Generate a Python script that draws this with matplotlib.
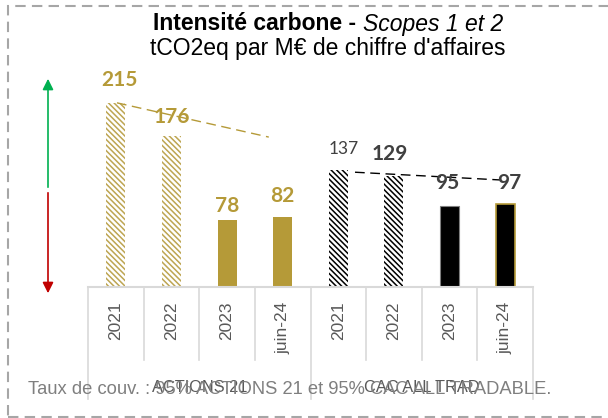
import matplotlib
matplotlib.use('Agg')
import matplotlib.pyplot as plt
import numpy as np

# data
groups = ['ACTIONS 21', 'CAC ALL TRAD']
periods = ['2021', '2022', '2023', 'juin-24']
actions_vals = [215, 176, 78, 82]
cac_vals = [137, 129, 95, 97]
actions_trend = [215, 175]
cac_trend = [134, 125]
footnote = 'Taux de couv. : 95% ACTIONS 21 et 95% CAC ALL TRADABLE.'

gold = '#B59A38'
grey_txt = '#595959'
line_col = '#D9D9D9'

plt.rcParams['font.family'] = ['Liberation Sans', 'DejaVu Sans']
plt.rcParams['hatch.linewidth'] = 1.1

fig = plt.figure(figsize=(6.08, 4.18), dpi=100)
ax = fig.add_axes([88 / 608, 1 - 287 / 418, 445 / 608, 227 / 418])
ax.set_xlim(-0.5, 7.5)
ax.set_ylim(0, 265)
ax.axis('off')

x_act = np.arange(4)
x_cac = np.arange(4) + 4
w = 0.34

# ACTIONS 21 bars
for i, v in enumerate(actions_vals):
    if i < 2:
        ax.bar(x_act[i], v, w, color='white', edgecolor='#BDA552', hatch='\\\\\\\\\\\\', linewidth=0)
    else:
        ax.bar(x_act[i], v, w, color=gold, linewidth=0)
# CAC bars
for i, v in enumerate(cac_vals):
    if i < 2:
        ax.bar(x_cac[i], v, w, color='white', edgecolor='black', hatch='\\\\\\\\\\\\', linewidth=0)
    elif i == 2:
        ax.bar(x_cac[i], v, w, color='black', edgecolor='#7F7F7F', linewidth=0.8)
    else:
        ax.bar(x_cac[i], v, w, color='black', edgecolor=gold, linewidth=1.2)

# trend lines
ax.plot([0.02, 2.75], actions_trend, color=gold, lw=1, dashes=(7, 4), clip_on=False)
ax.plot([4.3, 6.9], cac_trend, color='black', lw=1, dashes=(7, 4), clip_on=False)

# value labels (offsets in px)
act_off = [(4, 23), (0, 19), (0, 14), (0, 21)]
cac_off = [(5, 21), (-4, 22), (-2, 23), (4, 21)]
for i, v in enumerate(actions_vals):
    ax.annotate(str(v), (x_act[i], v), xytext=(act_off[i][0] * 0.72, act_off[i][1] * 0.72),
                textcoords='offset points', ha='center', va='center',
                fontsize=15, fontweight='bold', color=gold, family='Lato')
for i, v in enumerate(cac_vals):
    ax.annotate(str(v), (x_cac[i], v), xytext=(cac_off[i][0] * 0.72, cac_off[i][1] * 0.72),
                textcoords='offset points', ha='center', va='center',
                fontsize=12.5 if i == 0 else 15, fontweight='normal' if i == 0 else 'bold',
                color='#404040', family='Lato')

# category table below axis
ax.plot([-0.5, 7.5], [0, 0], color=line_col, lw=1.5, clip_on=False)
for k in range(9):
    bottom = -131 if k % 4 == 0 else -85
    ax.plot([k - 0.5, k - 0.5], [0, bottom], color=line_col, lw=1.2, clip_on=False)
for i, p in enumerate(periods * 2):
    ax.text(i, -17, p, rotation=90, ha='center', va='top', fontsize=12.5, color=grey_txt)
for g, gname in enumerate(groups):
    ax.text(g * 4 + 1.5, -117, gname, ha='center', va='center', fontsize=11.8, color=grey_txt)

fig.text(290 / 608, 1 - 390 / 418, footnote, ha='center', va='center', fontsize=13.2, color='#7F7F7F')

# arrows
fig.add_artist(matplotlib.patches.FancyArrowPatch((48, 418 - 190), (48, 418 - 76), transform=None,
               arrowstyle='-|>', mutation_scale=16, color='#00B050', lw=1.2))
fig.add_artist(matplotlib.patches.FancyArrowPatch((48, 418 - 190), (48, 418 - 296), transform=None,
               arrowstyle='-|>', mutation_scale=16, color='#C00000', lw=1.2))

# title
t1 = fig.text(0, 1 - 24 / 418, 'Intensité carbone - ', fontsize=16.5, fontweight='bold', va='center')
t2 = fig.text(0, 1 - 24 / 418, 'Scopes 1 et 2', fontsize=16.5, style='italic', va='center')
fig.canvas.draw()
r = fig.canvas.get_renderer()
w1 = t1.get_window_extent(r).width
w2 = t2.get_window_extent(r).width
x0 = 328 - (w1 + w2) / 2
t1.set_x(x0 / 608)
t2.set_x((x0 + w1) / 608)
fig.text(328 / 608, 1 - 49 / 418, "tCO2eq par M€ de chiffre d'affaires", fontsize=16.5, ha='center', va='center')

# dashed frame
frame = matplotlib.patches.Rectangle((8 / 608, 1 / 418), 700 / 608, 411 / 418, transform=fig.transFigure,
                                     fill=False, edgecolor='#A6A6A6', lw=1.5, linestyle=(0, (5, 3)))
fig.add_artist(frame)

fig.savefig('out.png', dpi=100)
